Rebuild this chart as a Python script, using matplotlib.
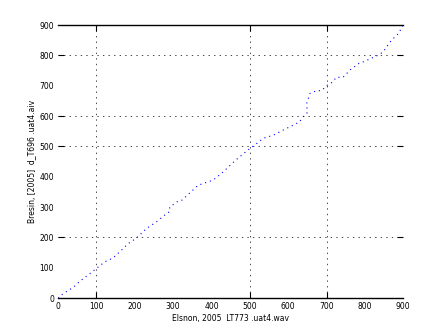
import matplotlib
matplotlib.use("Agg")
import matplotlib.pyplot as plt

# points
x_vals = [0, 4, 13, 39, 57, 81, 100, 122, 141, 152, 183, 203, 231, 257, 283, 291, 291,
          313, 323, 365, 404, 426, 465, 500, 518, 535, 561, 587, 630, 635, 644, 649, 649,
          657, 674, 687, 702, 717, 725, 743, 751, 761, 771, 787, 796, 835, 848, 857, 870,
          890, 896, 900]
y_vals = [0, 4, 15, 35, 56, 79, 98, 120, 131, 142, 180, 197, 230, 252, 279, 285, 300,
          320, 323, 372, 389, 411, 457, 493, 510, 527, 537, 554, 581, 592, 605, 610, 645,
          675, 684, 684, 702, 713, 728, 728, 738, 752, 761, 776, 779, 801, 812, 829, 851,
          875, 895, 900]

x_ticks = list(range(0, 1000, 100))
y_ticks = list(range(0, 1000, 100))
x_grid = [100, 500, 700]
y_grid = [200, 500, 600, 800]

x_label = "Elsnon, 2005  LT773 .uat4.wav"
y_label = "Bresin, [2005]  d_T696 .uat4.aiv"

fig = plt.figure(figsize=(4.47, 3.35), dpi=100)
ax = fig.add_axes([0.13, 0.11, 0.772, 0.815])

ax.plot(x_vals, y_vals, color="blue", linestyle=(0, (1, 3.5)), linewidth=0.8)

ax.set_xlim(0, 900)
ax.set_ylim(0, 900)
ax.xaxis.remove_overlapping_locs = False
ax.yaxis.remove_overlapping_locs = False
ax.set_xticks(x_ticks)
ax.set_yticks(y_ticks)
ax.tick_params(which="major", length=0, labelsize=5.5, pad=3)
ax.set_xticks(x_grid, minor=True)
ax.set_yticks(y_grid, minor=True)
ax.tick_params(which="minor", direction="in", length=4, width=0.8,
               top=True, right=True)
ax.grid(True, which="minor", color="black", linestyle=(0, (2, 6)), linewidth=0.5)

ax.spines["left"].set_visible(False)
ax.spines["right"].set_visible(False)
ax.spines["top"].set_linewidth(1.0)
ax.spines["bottom"].set_linewidth(1.0)

ax.set_xlabel(x_label, fontsize=5.5, labelpad=2)
ax.set_ylabel(y_label, fontsize=5.5, labelpad=2)

fig.savefig("out.png", dpi=100)
